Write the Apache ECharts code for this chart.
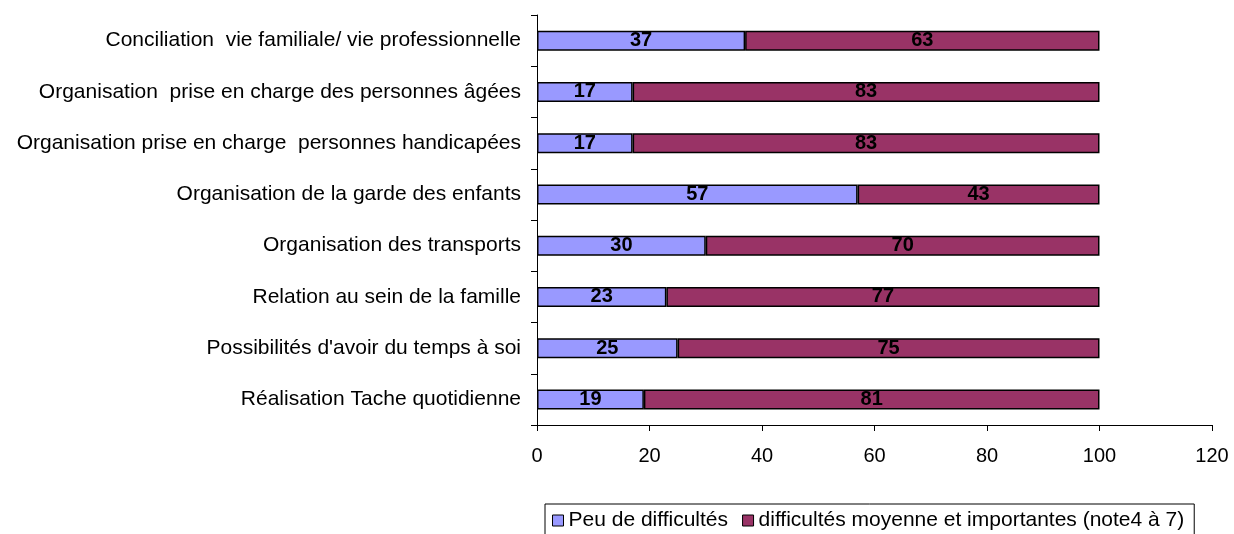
<!DOCTYPE html>
<html>
<head>
<meta charset="utf-8">
<script src="https://cdn.jsdelivr.net/npm/echarts@6/dist/echarts.min.js"></script>
<style>
  html, body { margin: 0; padding: 0; background: #fff; }
  #chart { width: 1234px; height: 534px; }
</style>
</head>
<body>
<div id="chart"></div>
<script>
// Categories listed bottom to top (category axis runs upward)
const categories = [
  'Réalisation Tache quotidienne',
  'Possibilités d\'avoir du temps à soi',
  'Relation au sein de la famille',
  'Organisation des transports',
  'Organisation de la garde des enfants',
  'Organisation prise en charge  personnes handicapées',
  'Organisation  prise en charge des personnes âgées',
  'Conciliation  vie familiale/ vie professionnelle'
];
const peuDifficultes = [19, 25, 23, 30, 57, 17, 17, 37];
const difficultesMoyennes = [81, 75, 77, 70, 43, 83, 83, 63];
const seriesNames = ['Peu de difficultés', 'difficultés moyenne et importantes (note4 à 7)'];
const xTicks = { min: 0, max: 120, interval: 20 };

const font = '"Liberation Sans", Arial, sans-serif';
const chart = echarts.init(document.getElementById('chart'));

const labelStyle = {
  show: true,
  position: 'inside',
  color: '#000',
  fontFamily: font,
  fontWeight: 'bold',
  fontSize: 20
};

chart.setOption({
  animation: false,
  backgroundColor: '#fff',
  grid: { left: 537, right: 22, top: 15, bottom: 109, containLabel: false },
  legend: {
    top: 504,
    left: 545,
    itemWidth: 11,
    itemHeight: 11,
    itemGap: 14,
    padding: [6, 10, 10, 7],
    borderColor: '#000',
    borderWidth: 1,
    textStyle: { fontFamily: font, fontSize: 21, color: '#000' },
    data: seriesNames.map(n => ({ name: n, icon: 'rect' })),
    itemStyle: { borderColor: '#000', borderWidth: 1 }
  },
  xAxis: {
    type: 'value',
    min: xTicks.min,
    max: xTicks.max,
    interval: xTicks.interval,
    axisLine: { show: true, lineStyle: { color: '#000', width: 1 } },
    axisTick: { show: true, length: 6, lineStyle: { color: '#000' } },
    splitLine: { show: false },
    axisLabel: { fontFamily: font, fontSize: 20, color: '#000', margin: 21 }
  },
  yAxis: {
    type: 'category',
    data: categories,
    axisLine: { show: true, lineStyle: { color: '#000', width: 1 } },
    axisTick: { show: true, length: 6, alignWithLabel: false, lineStyle: { color: '#000' } },
    axisLabel: { fontFamily: font, fontSize: 21, color: '#000', margin: 16 }
  },
  series: [
    {
      name: seriesNames[0],
      type: 'bar',
      stack: 'total',
      barWidth: 20,
      data: peuDifficultes,
      itemStyle: { color: '#9999FF', borderColor: '#000', borderWidth: 1.5 },
      label: labelStyle
    },
    {
      name: seriesNames[1],
      type: 'bar',
      stack: 'total',
      barWidth: 20,
      data: difficultesMoyennes,
      itemStyle: { color: '#993366', borderColor: '#000', borderWidth: 1.5 },
      label: labelStyle
    }
  ]
});
</script>
</body>
</html>
